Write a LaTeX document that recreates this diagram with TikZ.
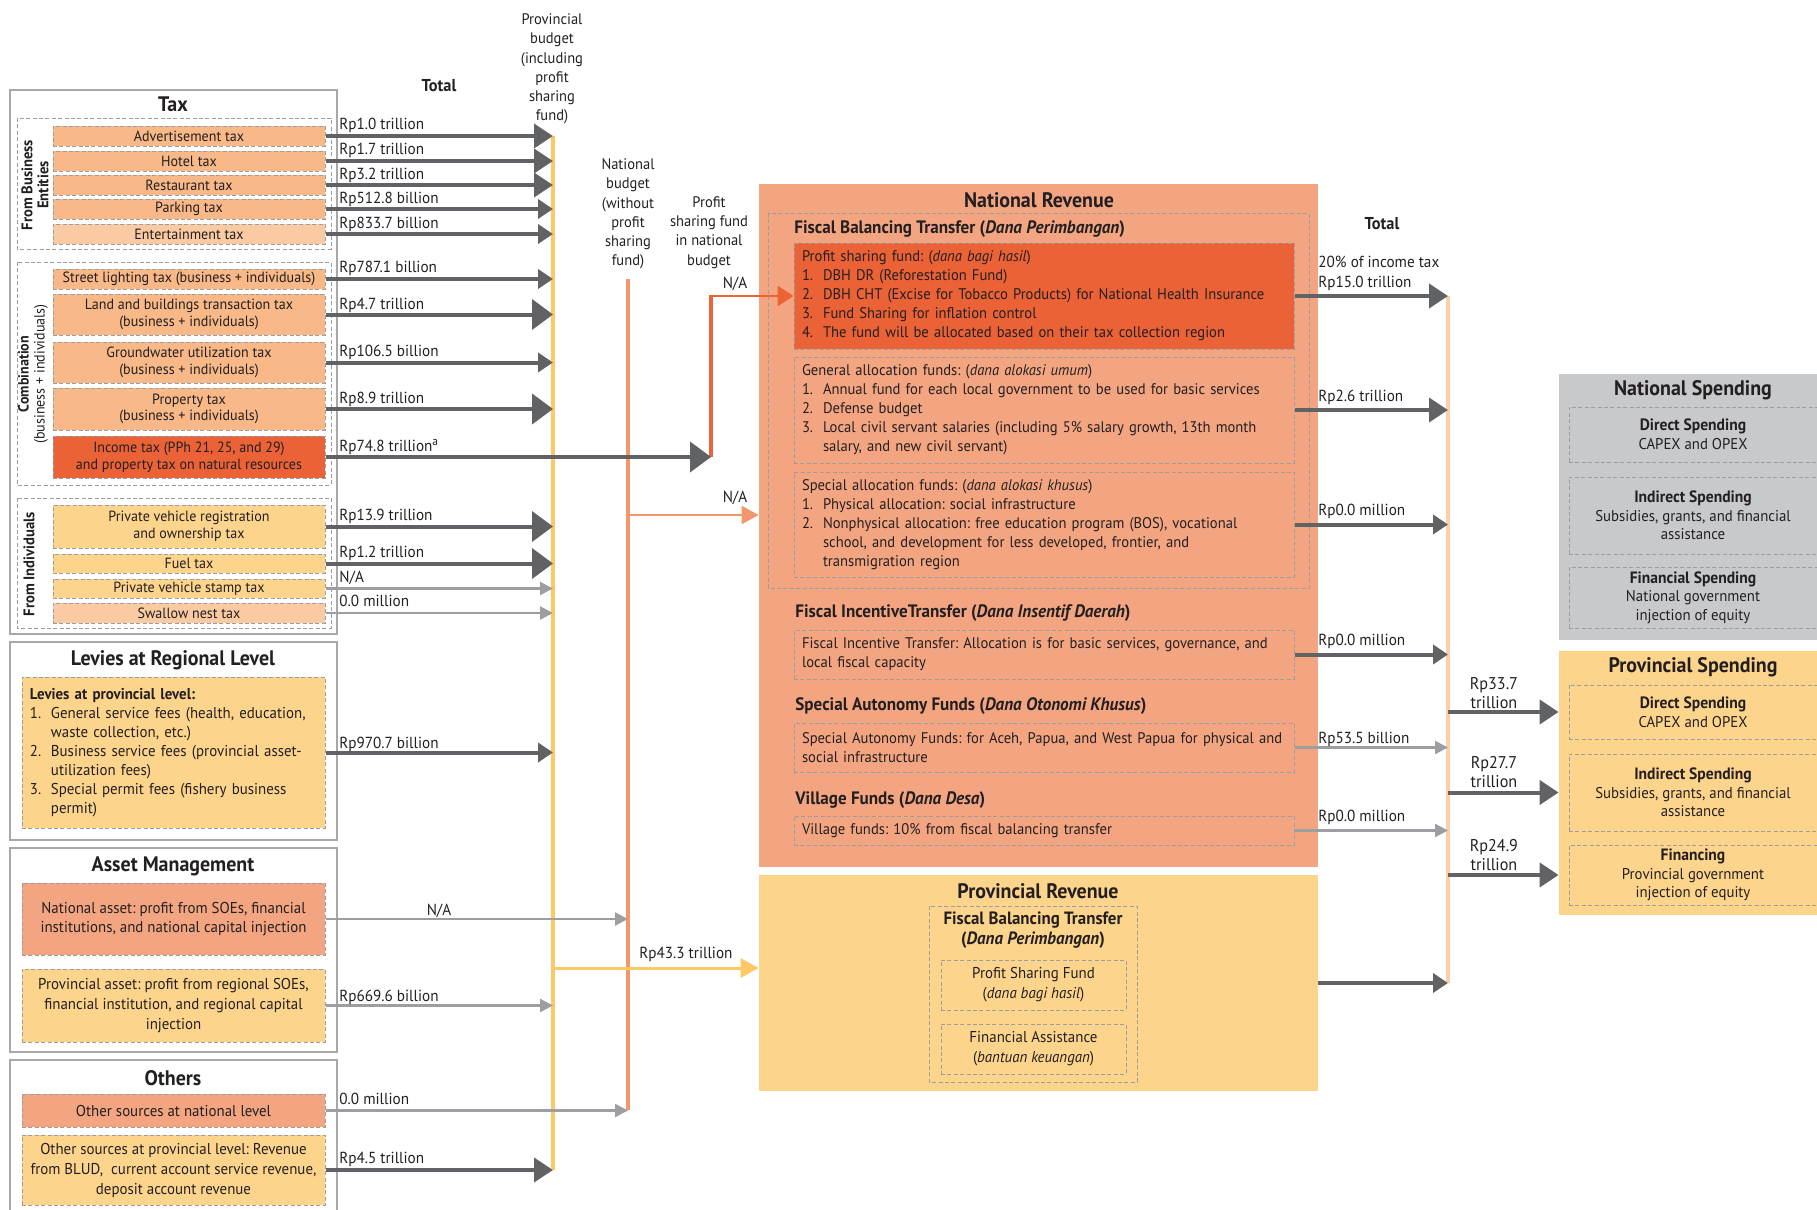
\documentclass[tikz,border=0pt]{standalone}
\usepackage{fontspec}
\setmainfont{PT Sans}[FakeStretch=0.95]
\usetikzlibrary{calc,arrows.meta}
\frenchspacing

\definecolor{txt}{HTML}{231F20}
\definecolor{arrdark}{HTML}{616265}
\definecolor{arrlight}{HTML}{9D9EA1}
\definecolor{boxline}{HTML}{A6A8AB}
\definecolor{dashline}{HTML}{9C9DA0}
\definecolor{taxorange}{HTML}{F8B887}
\definecolor{lightorange}{HTML}{FACBA2}
\definecolor{deeporange}{HTML}{EB6236}
\definecolor{provyellow}{HTML}{FDD48B}
\definecolor{salmon}{HTML}{F3A581}
\definecolor{spendgrey}{HTML}{C8C9CB}
\definecolor{barYellow}{HTML}{FEC864}
\definecolor{barSalmon}{HTML}{F3966E}
\definecolor{barOrange}{HTML}{EC6435}
\definecolor{barPeach}{HTML}{FCCFA8}

\newcommand{\fbody}{\fontsize{7.85}{9.5}\selectfont}
\newcommand{\flist}{\fontsize{7.7}{9.5}\selectfont}
\newcommand{\ftax}{\fontsize{7.4}{8.3}\selectfont}
\newcommand{\fval}{\fontsize{8}{10}\selectfont}
\newcommand{\fcol}{\fontsize{7.65}{9.6}\selectfont}
\newcommand{\fspend}{\fontsize{7.8}{9.3}\selectfont}
\newcommand{\fsphead}{\fontsize{8.2}{9.3}\selectfont\bfseries}
\newcommand{\fhead}{\fontsize{9}{10}\selectfont\bfseries}
\newcommand{\ftitle}{\fontsize{10.5}{12}\selectfont\bfseries}
\newcommand{\itm}[1]{\makebox[10.5pt][l]{#1}}
\newcommand{\itc}{\hspace*{10.5pt}}

\tikzset{
  outerbox/.style={draw=boxline, line width=0.8pt},
  dashbox/.style={draw=dashline, line width=0.5pt, dash pattern=on 2pt off 1.2pt},
  taxbox/.style={dashbox, fill=taxorange, minimum width=136pt, inner sep=0pt, align=center, font=\ftax, text=txt},
  textbox/.style={dashbox, inner sep=0pt, align=center, font=\fbody, text=txt},
  listbox/.style={dashbox, inner xsep=4pt, inner ysep=0pt, align=left, font=\flist, text=txt},
  spendbox/.style={dashbox, minimum width=124pt, inner sep=0pt, align=center, font=\fspend, text=txt},
  lbl/.style={inner sep=0pt, align=center, font=\fbody, text=txt},
  boxtitle/.style={inner sep=0pt, font=\ftitle, text=txt},
  header/.style={inner sep=0pt, anchor=west, font=\fhead, text=txt},
  val/.style={anchor=base west, inner sep=0pt, font=\fval, text=txt},
  flow/.style={draw=arrdark, line width=2pt},
  bigflow/.style={flow, -{Triangle[length=10.5pt,width=15pt]}},
  midflow/.style={flow, -{Triangle[length=9.5pt,width=12pt]}},
  smallflow/.style={flow, -{Triangle[length=7.5pt,width=9.5pt]}},
  thinflow/.style={draw=arrlight, line width=1.2pt, -{Triangle[length=6.5pt,width=6.5pt]}},
  vbar/.style={line width=2.4pt},
}

\begin{document}
\begin{tikzpicture}[x=0.5pt,y=0.5pt,yscale=-1]
\useasboundingbox (0,0) rectangle (1817,1210);

%Shape: Rectangle -- tax
\draw[outerbox] (10,90) rectangle (337,634);
\node[boxtitle] (taxtitle) at (173,104) {Tax};
\draw[dashbox] (17,118) rectangle (331,249);
\draw[dashbox] (17,262) rectangle (331,485);
\draw[dashbox] (17,498) rectangle (331,628);
\node[lbl, rotate=90, font=\fontsize{7.7}{8}\selectfont\bfseries] (bizlbl) at (35,185) {From Business\\Entities};
\node[lbl, rotate=90, font=\fontsize{7.4}{8}\selectfont] (comblbl) at (33,374) {\textbf{Combination}\\(business + individuals)};
\node[lbl, rotate=90, font=\fontsize{7.7}{8}\selectfont\bfseries] (indlbl) at (29,564) {From Individuals};

\node[taxbox, minimum height=10pt] (adv) at (189,136) {Advertisement tax};
\node[taxbox, minimum height=10pt] (hotel) at (189,161) {Hotel tax};
\node[taxbox, minimum height=10pt] (rest) at (189,185) {Restaurant tax};
\node[taxbox, minimum height=10pt] (park) at (189,209) {Parking tax};
\node[taxbox, minimum height=10pt, fill=lightorange] (ent) at (189,234) {Entertainment tax};
\node[taxbox, minimum height=10pt] (street) at (189,279) {Street lighting tax (business + individuals)};
\node[taxbox, minimum height=20.5pt] (land) at (189,314.5) {Land and buildings transaction tax\\(business + individuals)};
\node[taxbox, minimum height=20.5pt] (ground) at (189,362.5) {Groundwater utilization tax\\(business + individuals)};
\node[taxbox, minimum height=21pt] (prop) at (189,409) {Property tax\\(business + individuals)};
\node[taxbox, minimum height=21pt, fill=deeporange] (income) at (189,457) {Income tax (PPh 21, 25, and 29)\\and property tax on natural resources};
\node[taxbox, minimum height=21.5pt, fill=provyellow] (vehreg) at (189,526.5) {Private vehicle registration\\and ownership tax};
\node[taxbox, minimum height=9.5pt, fill=provyellow] (fuel) at (189,563.5) {Fuel tax};
\node[taxbox, minimum height=9.5pt, fill=provyellow] (stamp) at (189,588.5) {Private vehicle stamp tax};
\node[taxbox, minimum height=10pt, fill=lightorange] (swallow) at (189,613) {Swallow nest tax};

%Shape: Rectangle -- levies
\draw[outerbox] (10,642) rectangle (337,840);
\node[boxtitle] (levtitle) at (173,660) {Levies at Regional Level};
\node[listbox, fill=provyellow, font=\fbody, text width=143.5pt, minimum height=75.5pt] (lev) at (173.5,752.5)
  {\textbf{Levies at provincial level:}\\
   \mbox{\itm{1.}General service fees (health, education,}\\
   \itc waste collection, etc.)\\
   \mbox{\itm{2.}Business service fees (provincial asset-}\\
   \itc utilization fees)\\
   \mbox{\itm{3.}Special permit fees (fishery business}\\
   \itc permit)};

%Shape: Rectangle -- assets
\draw[outerbox] (10,848) rectangle (337,1052);
\node[boxtitle] (astitle) at (173,866) {Asset Management};
\node[textbox, fill=salmon, minimum width=151.5pt, minimum height=36pt] (natasset) at (173.5,919)
  {National asset: profit from SOEs, financial\\institutions, and national capital injection};
\node[textbox, fill=provyellow, minimum width=151.5pt, minimum height=36.5pt, font=\fontsize{7.85}{10}\selectfont] (provasset) at (173.5,1005.5)
  {Provincial asset: profit from regional SOEs,\\financial institution, and regional capital\\injection};

%Shape: Rectangle -- others
\draw[outerbox] (10,1060) rectangle (337,1220);
\node[boxtitle] (othtitle) at (173,1078) {Others};
\node[textbox, fill=salmon, minimum width=151.5pt, minimum height=16.5pt] (othnat) at (173.5,1110.5) {Other sources at national level};
\node[textbox, fill=provyellow, minimum width=151.5pt, minimum height=35pt, font=\fontsize{7.85}{10}\selectfont] (othprov) at (173.5,1170)
  {Other sources at provincial level: Revenue\\from BLUD,\ \ current account service revenue,\\deposit account revenue};

%Text Node -- column heads
\node[lbl, font=\fontsize{8.6}{10}\selectfont\bfseries] (totl) at (439,86) {Total};
\node[lbl, font=\fcol] (pblbl) at (552,69) {Provincial\\budget\\(including\\profit\\sharing\\fund)};
\node[lbl, font=\fcol] (nblbl) at (628,214) {National\\budget\\(without\\profit\\sharing\\fund)};
\node[lbl, font=\fcol] (psflbl) at (709,232.5) {Profit\\sharing fund\\in national\\budget};
\node[lbl, font=\fontsize{8.6}{10}\selectfont\bfseries] (totr) at (1382,224) {Total};

%Straight Lines -- budget bars
\coordinate (pbar) at (553,136);
\coordinate (pbarend) at (553,1170);
\coordinate (nbar) at (628,279);
\coordinate (nbarend) at (628,1110);
\coordinate (psfc) at (711,297);
\coordinate (rbar) at (1448,296);
\coordinate (rbarend) at (1448,983);
\draw[vbar, barYellow] (pbar) -- (pbarend);
\draw[vbar, barSalmon, line width=2.2pt] (nbar) -- (nbarend);
\draw[vbar, barPeach, line width=2.3pt] (rbar) -- (rbarend);

%Shape: Rectangle -- national revenue
\node[fill=salmon, minimum width=279.5pt, minimum height=341.5pt, inner sep=0pt] (natrev) at (1038.5,525.5) {};
\node[boxtitle] (natrevtitle) at (1039,200) {National Revenue};
\draw[dashbox] (768,213) rectangle (1309,588);
\node[header] (fbtlbl) at (794,229) {Fiscal Balancing Transfer (\textit{Dana Perimbangan})};
\node[listbox, fill=deeporange, text width=242pt, minimum height=53pt] (psf) at (1044,296)
  {Profit sharing fund: (\textit{dana bagi hasil})\\
   \itm{1.}DBH DR (Reforestation Fund)\\
   \mbox{\itm{2.}DBH CHT (Excise for Tobacco Products) for National Health Insurance}\\
   \itm{3.}Fund Sharing for inflation control\\
   \mbox{\itm{4.}The fund will be allocated based on their tax collection region}};
\node[listbox, text width=242pt, minimum height=53pt] (gen) at (1044,410)
  {General allocation funds: (\textit{dana alokasi umum})\\
   \mbox{\itm{1.}Annual fund for each local government to be used for basic services}\\
   \itm{2.}Defense budget\\
   \mbox{\itm{3.}Local civil servant salaries (including 5\% salary growth, 13th month}\\
   \itc salary, and new civil servant)};
\node[listbox, text width=242pt, minimum height=52.5pt] (spec) at (1044,524.5)
  {Special allocation funds: (\textit{dana alokasi khusus})\\
   \itm{1.}Physical allocation: social infrastructure\\
   \mbox{\itm{2.}Nonphysical allocation: free education program (BOS), vocational}\\
   \mbox{\itc school, and development for less developed, frontier, and}\\
   \itc transmigration region};
\node[header] (fitlbl) at (795,613) {Fiscal IncentiveTransfer (\textit{Dana Insentif Daerah})};
\node[listbox, text width=242pt, minimum height=24.5pt] (incent) at (1044,654.5)
  {\mbox{Fiscal Incentive Transfer: Allocation is for basic services, governance, and}\\local fiscal capacity};
\node[header] (saflbl) at (795,706) {Special Autonomy Funds (\textit{Dana Otonomi Khusus})};
\node[listbox, text width=242pt, minimum height=24.5pt] (auton) at (1044,747.5)
  {\mbox{Special Autonomy Funds: for Aceh, Papua, and West Papua for physical and}\\social infrastructure};
\node[header] (vflbl) at (795,800) {Village Funds (\textit{Dana Desa})};
\node[listbox, text width=242pt, minimum height=14.5pt] (village) at (1044,830.5)
  {Village funds: 10\% from fiscal balancing transfer};

%Shape: Rectangle -- provincial revenue
\node[fill=provyellow, minimum width=279.5pt, minimum height=108pt, inner sep=0pt] (provrev) at (1038.5,983) {};
\node[boxtitle] (provrevtitle) at (1038,891) {Provincial Revenue};
\draw[dashbox] (929,906) rectangle (1137,1082);
\node[lbl, font=\fontsize{8.9}{10}\selectfont\bfseries] (pfbtlbl) at (1033,930) {Fiscal Balancing Transfer\\(\textit{Dana Perimbangan})};
\node[textbox, minimum width=92.5pt, minimum height=25pt, font=\fontsize{7.85}{10}\selectfont] (psf2) at (1033.5,985)
  {Profit Sharing Fund\\(\textit{dana bagi hasil})};
\node[textbox, minimum width=92.5pt, minimum height=25pt, font=\fontsize{7.85}{10}\selectfont] (finas) at (1033.5,1049)
  {Financial Assistance\\(\textit{bantuan keuangan})};

%Shape: Rectangle -- spending
\node[fill=spendgrey, minimum width=134pt, minimum height=133pt, inner sep=0pt] (natsp) at (1693,507) {};
\node[boxtitle] (natsptitle) at (1693,390) {National Spending};
\node[spendbox, minimum height=27.5pt] (nds) at (1693,434.5) {{\fsphead Direct Spending}\\CAPEX and OPEX};
\node[spendbox, minimum height=38.5pt] (nis) at (1693,515.5) {{\fsphead Indirect Spending}\\Subsidies, grants, and financial\\assistance};
\node[spendbox, minimum height=30.5pt] (nfs) at (1693,597.5) {{\fsphead Financial Spending}\\National government\\injection of equity};
\node[fill=provyellow, minimum width=134pt, minimum height=132pt, inner sep=0pt] (provsp) at (1693,783) {};
\node[boxtitle] (provsptitle) at (1693,667) {Provincial Spending};
\node[spendbox, minimum height=27pt] (pds) at (1693,712) {{\fsphead Direct Spending}\\CAPEX and OPEX};
\node[spendbox, minimum height=38.5pt] (pis) at (1693,792.5) {{\fsphead Indirect Spending}\\Subsidies, grants, and financial\\assistance};
\node[spendbox, minimum height=30pt] (pfin) at (1693,875) {{\fsphead Financing}\\Provincial government\\injection of equity};

%Straight Lines -- into provincial budget
\draw[midflow] (adv.east) -- (adv.east -| pbar);
\draw[midflow] (hotel.east) -- (hotel.east -| pbar);
\draw[midflow] (rest.east) -- (rest.east -| pbar);
\draw[smallflow] (park.east) -- (park.east -| pbar);
\draw[smallflow] (ent.east) -- (ent.east -| pbar);
\draw[smallflow] (street.east) -- (street.east -| pbar);
\draw[bigflow] (land.east) -- (land.east -| pbar);
\draw[smallflow] (ground.east) -- (ground.east -| pbar);
\draw[bigflow] (prop.east) -- (prop.east -| pbar);
\draw[bigflow] (vehreg.east) -- (vehreg.east -| pbar);
\draw[bigflow] (fuel.east) -- (fuel.east -| pbar);
\draw[thinflow] (stamp.east) -- (stamp.east -| pbar);
\draw[thinflow] (swallow.east) -- (swallow.east -| pbar);
\draw[smallflow] (lev.east) -- (lev.east -| pbar);
\draw[thinflow] (provasset.east) -- (provasset.east -| pbar);
\draw[midflow] (othprov.east) -- (othprov.east -| pbar);

%Straight Lines -- into national budget
\draw[thinflow] (natasset.east) -- (natasset.east -| nbar);
\draw[thinflow] (othnat.east) -- (othnat.east -| nbar);

%Straight Lines -- profit sharing fund
\draw[barOrange, line width=2.4pt] (income.east -| psfc) -- ($(psfc |- psf.west)+(0,-1.2)$);
\draw[barOrange, line width=1.4pt, -{Triangle[length=8pt,width=10pt]}] (psfc |- psf.west) -- (psf.west);
\draw[bigflow] (income.east) -- (income.east -| psfc);

%Straight Lines -- into revenue boxes
\coordinate (nasrc) at (628,515);
\coordinate (pysrc) at (553,968);
\draw[barSalmon, line width=1.3pt, -{Triangle[length=8.5pt,width=9pt]}] (nasrc) -- (nasrc -| natrev.west);
\draw[barYellow, line width=1.5pt, -{Triangle[length=9pt,width=9.5pt]}] (pysrc) -- (pysrc -| provrev.west);

%Straight Lines -- out of revenue boxes
\draw[midflow] (psf.east) -- (psf.east -| rbar);
\draw[midflow] (gen.east) -- (gen.east -| rbar);
\draw[smallflow] (spec.east) -- (spec.east -| rbar);
\draw[smallflow] (incent.east) -- (incent.east -| rbar);
\draw[thinflow] (auton.east) -- (auton.east -| rbar);
\draw[thinflow] (village.east) -- (village.east -| rbar);
\draw[smallflow] (provrev.east) -- (provrev.east -| rbar);

%Straight Lines -- into spending
\draw[midflow] (pds -| rbar) -- (pds -| provsp.west);
\draw[midflow] (pis -| rbar) -- (pis -| provsp.west);
\draw[midflow] (pfin -| rbar) -- (pfin -| provsp.west);

%Text Node -- amounts
\node[val] (v1) at (339,129) {Rp1.0 trillion};
\node[val] (v2) at (339,154) {Rp1.7 trillion};
\node[val] (v3) at (339,179) {Rp3.2 trillion};
\node[val] (v4) at (339,203) {Rp512.8 billion};
\node[val] (v5) at (339,228) {Rp833.7 billion};
\node[val] (v6) at (339,272) {Rp787.1 billion};
\node[val] (v7) at (339,309) {Rp4.7 trillion};
\node[val] (v8) at (339,356) {Rp106.5 billion};
\node[val] (v9) at (339,403) {Rp8.9 trillion};
\node[val] (v10) at (339,451) {Rp74.8 trillion\textsuperscript{a}};
\node[val] (v11) at (339,520) {Rp13.9 trillion};
\node[val] (v12) at (339,557) {Rp1.2 trillion};
\node[val] (v13) at (339,582) {N/A};
\node[val] (v14) at (339,606) {0.0 million};
\node[val] (v15) at (339,748) {Rp970.7 billion};
\node[val, anchor=base] (v16) at (439,915) {N/A};
\node[val] (v17) at (339,1001) {Rp669.6 billion};
\node[val] (v18) at (339,1104) {0.0 million};
\node[val] (v19) at (339,1163) {Rp4.5 trillion};
\node[val, anchor=base] (v20) at (735,288) {N/A};
\node[val, anchor=base] (v21) at (735,502) {N/A};
\node[val] (v22) at (639,958) {Rp43.3 trillion};
\node[lbl, align=left, anchor=west, font=\fval] (v23) at (1318,273) {20\% of income tax\\Rp15.0 trillion};
\node[val] (v24) at (1318,401) {Rp2.6 trillion};
\node[val] (v25) at (1318,515) {Rp0.0 million};
\node[val] (v26) at (1318,645) {Rp0.0 million};
\node[val] (v27) at (1318,743) {Rp53.5 billion};
\node[val] (v28) at (1318,821) {Rp0.0 million};
\node[lbl, font=\fontsize{8.5}{9.5}\selectfont] (v29) at (1494,693) {Rp33.7\\trillion};
\node[lbl, font=\fontsize{8.5}{9.5}\selectfont] (v30) at (1494,772) {Rp27.7\\trillion};
\node[lbl, font=\fontsize{8.5}{9.5}\selectfont] (v31) at (1494,855) {Rp24.9\\trillion};
\end{tikzpicture}
\end{document}
